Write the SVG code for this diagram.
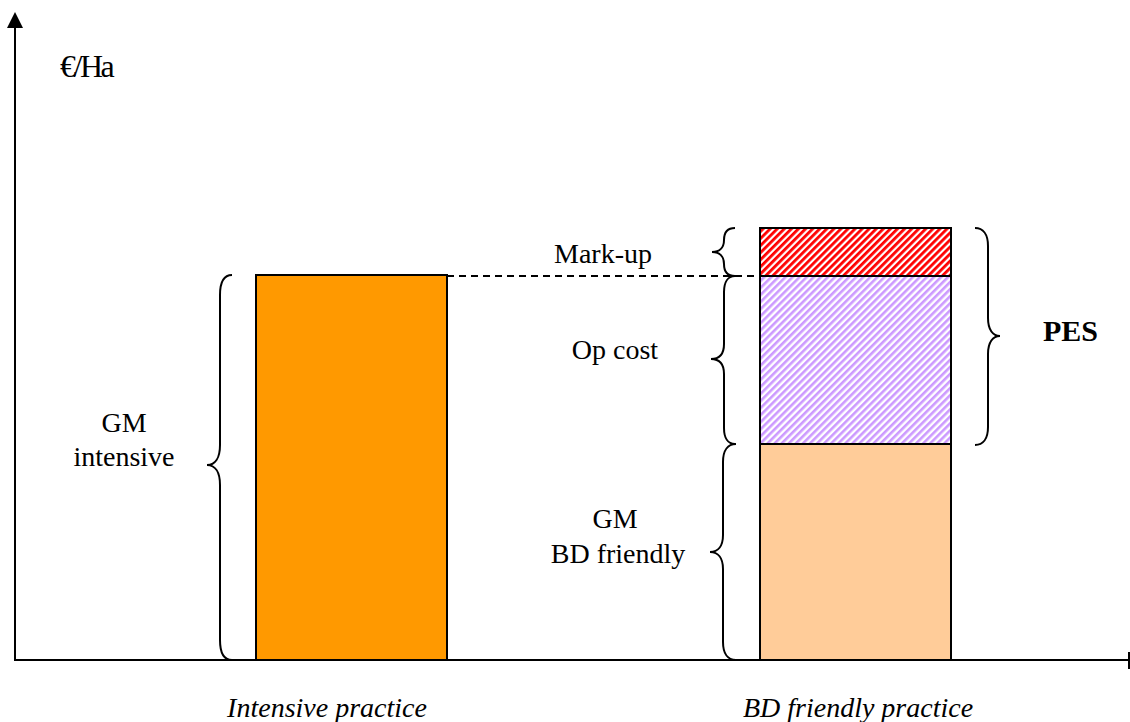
<svg xmlns="http://www.w3.org/2000/svg" width="1130" height="722" viewBox="0 0 1130 722">
  <style>
    .t { font-family: "Liberation Serif", "Times New Roman", serif; font-size: 28px; fill: #000; }
    .it { font-style: italic; }
    .b { font-weight: bold; }
    .brace { fill: none; stroke: #000; stroke-width: 2; }
    .bar { stroke: #000; stroke-width: 2; }
  </style>
  <defs>
    <pattern id="hatchRed" width="5" height="5" patternUnits="userSpaceOnUse" patternTransform="rotate(45)">
      <rect width="5" height="5" fill="#ffffff"/>
      <rect width="2.8" height="5" fill="#ff0000"/>
    </pattern>
    <pattern id="hatchLav" width="5" height="5" patternUnits="userSpaceOnUse" patternTransform="rotate(45)">
      <rect width="5" height="5" fill="#ffffff"/>
      <rect width="2.6" height="5" fill="#cc99ff"/>
    </pattern>
  </defs>

  <g id="axes">
    <line x1="15" y1="660" x2="15" y2="27" stroke="#000" stroke-width="2"/>
    <path d="M7,28 L15,12 L23,28 Z" fill="#000"/>
    <line x1="14" y1="660" x2="1129" y2="660" stroke="#000" stroke-width="2"/>
    <line x1="1129" y1="652" x2="1129" y2="669" stroke="#000" stroke-width="2"/>
    <text class="t" x="60" y="77" letter-spacing="-2.5" style="font-size:32px">€/Ha</text>
  </g>

  <g id="bar-intensive">
    <rect class="bar" x="256" y="275" width="191" height="385" fill="#ff9900"/>
  </g>

  <g id="bar-bd-gm">
    <rect class="bar" x="760" y="444" width="191" height="216" fill="#ffcc99"/>
  </g>
  <g id="bar-bd-opcost">
    <rect class="bar" x="760" y="276" width="191" height="168" fill="url(#hatchLav)"/>
  </g>
  <g id="bar-bd-markup">
    <rect class="bar" x="760" y="228" width="191" height="48" fill="url(#hatchRed)"/>
  </g>

  <g id="connectors">
    <line x1="447" y1="276" x2="760" y2="276" stroke="#000" stroke-width="2" stroke-dasharray="7,5"/>
  </g>

  <g id="brace-gm-intensive">
    <path class="brace" d="M232,275 C224,275 220,282 220,295 L220,445 C220,458 215,465 207,465 C215,465 220,472 220,485 L220,640 C220,653 224,660 232,660"/>
    <text class="t" x="124" y="432" text-anchor="middle">GM</text>
    <text class="t" x="124" y="466" text-anchor="middle">intensive</text>
  </g>

  <g id="brace-markup">
    <path class="brace" d="M735,228 C728,228 724,232 724,240 C724,248 719,252 712,252 C719,252 724,256 724,264 C724,272 728,276 735,276"/>
    <text class="t" x="603" y="263" text-anchor="middle">Mark-up</text>
  </g>

  <g id="brace-opcost">
    <path class="brace" d="M735,276 C728,276 724,282 724,292 L724,344 C724,354 719,359 711,359 C719,359 724,364 724,374 L724,428 C724,438 728,444 735,444"/>
    <text class="t" x="615" y="359" text-anchor="middle">Op cost</text>
  </g>

  <g id="brace-gm-bd">
    <path class="brace" d="M736,444 C728,444 723,450 723,462 L723,535 C723,546 718,552 710,552 C718,552 723,558 723,569 L723,642 C723,654 728,660 736,660"/>
    <text class="t" x="615" y="528" text-anchor="middle">GM</text>
    <text class="t" x="618" y="563" text-anchor="middle">BD friendly</text>
  </g>

  <g id="brace-pes">
    <path class="brace" d="M975,228 C983,228 988,234 988,246 L988,318 C988,330 993,336 1000,336 C993,336 988,342 988,354 L988,427 C988,439 983,445 975,445"/>
    <text class="t b" x="1043" y="341" style="font-size:30px">PES</text>
  </g>

  <g id="labels">
    <text class="t it" x="327" y="717" text-anchor="middle">Intensive practice</text>
    <text class="t it" x="858" y="717" text-anchor="middle">BD friendly practice</text>
  </g>
</svg>
